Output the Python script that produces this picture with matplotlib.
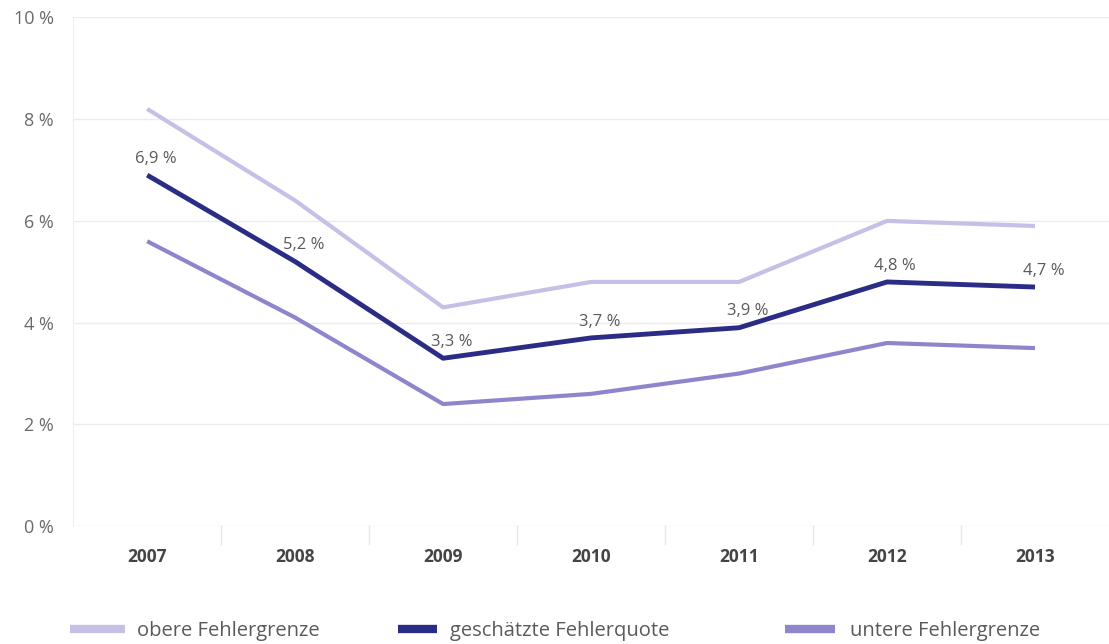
import numpy as np
import matplotlib.pyplot as plt
from matplotlib.lines import Line2D

plt.rcParams['font.family'] = ['Open Sans', 'DejaVu Sans']

years = ['2007', '2008', '2009', '2010', '2011', '2012', '2013']
obere = [8.2, 6.4, 4.3, 4.8, 4.8, 6.0, 5.9]
geschaetzt = [6.9, 5.2, 3.3, 3.7, 3.9, 4.8, 4.7]
untere = [5.6, 4.1, 2.4, 2.6, 3.0, 3.6, 3.5]
y_ticks = [0, 2, 4, 6, 8, 10]
labels = ['obere Fehlergrenze', 'geschätzte Fehlerquote', 'untere Fehlergrenze']

c_obere = '#c6bfe6'
c_mid = '#2a2c86'
c_untere = '#8e86cc'
c_text = '#5a5a5a'

W, H = 11.09, 6.44
fig = plt.figure(figsize=(W, H), dpi=100)
ax = fig.add_axes([0.066, 0.183, 0.934, 0.79])

x = np.arange(len(years))
ax.plot(x, obere, color=c_obere, lw=3, solid_capstyle='butt', zorder=2)
ax.plot(x, untere, color=c_untere, lw=3, solid_capstyle='butt', zorder=2)
ax.plot(x, geschaetzt, color=c_mid, lw=3.5, solid_capstyle='butt', zorder=3)

for xi, v in zip(x, geschaetzt):
    ax.annotate(f'{v:.1f} %'.replace('.', ','), (xi, v), xytext=(6, 6),
                textcoords='offset points', ha='center', va='bottom',
                fontsize=12, color=c_text)

ax.set_xlim(-0.5, len(years) - 0.5)
ax.set_ylim(0, 10)
ax.set_yticks(y_ticks)
ax.set_yticklabels([f'{t} %' for t in y_ticks], fontsize=13, color='#6a6a6a')
ax.set_xticks(x)
ax.set_xticklabels(years, fontsize=12.5, fontweight='bold', color='#444444')
ax.tick_params(axis='y', length=0, pad=14)
ax.tick_params(axis='x', length=0, pad=16)
ax.yaxis.grid(True, color='#ececec', lw=1)
ax.set_axisbelow(True)
for s in ['top', 'right', 'bottom']:
    ax.spines[s].set_visible(False)
ax.spines['left'].set_color('#eeeeee')

# category separators below the axis
for b in np.arange(0.5, len(years) - 1, 1):
    ax.plot([b, b], [0, -0.35], color='#e6e6e6', lw=1, clip_on=False)

# legend drawn by hand along the bottom
colors = [c_obere, c_mid, c_untere]
handle_px = [(70, 125), (398, 437), (785, 835)]
text_px = [137, 450, 850]
ly = 1 - 631 / (H * 100)
for c, (h0, h1), tx, lab in zip(colors, handle_px, text_px, labels):
    fig.add_artist(Line2D([h0 / (W * 100), h1 / (W * 100)], [ly + 0.003, ly + 0.003],
                          color=c, lw=6, solid_capstyle='butt'))
    fig.text(tx / (W * 100), ly, lab, fontsize=14.5, color=c_text,
             ha='left', va='center')

fig.savefig('out.png', dpi=100)
